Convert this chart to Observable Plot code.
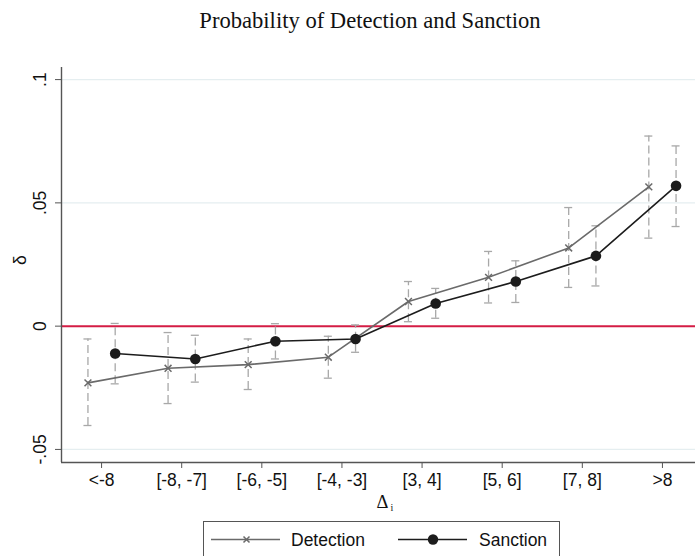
<!DOCTYPE html>
<html>
<head>
<meta charset="utf-8">
<script src="https://cdn.jsdelivr.net/npm/d3@7"></script>
<script src="https://cdn.jsdelivr.net/npm/@observablehq/plot@0.6"></script>
<style>
  html, body { margin: 0; padding: 0; background: #fff; }
  #wrap { position: relative; width: 695px; height: 556px; overflow: hidden; background: #fff; }
  #chart { position: absolute; left: 0; top: 0; }
  #title {
    position: absolute; left: 0; top: 9px; width: 740px; text-align: center;
    font-family: "Liberation Serif", "Times New Roman", serif; font-size: 22.6px; line-height: 24px; color: #111;
  }
  #legend {
    position: absolute; left: 203px; top: 521px; width: 357px; height: 37px;
    border: 1px solid #555; box-sizing: border-box; background: #fff;
    font-family: "Liberation Sans", Arial, sans-serif; font-size: 17.5px; color: #111;
  }
  #legend svg { position: absolute; left: 0; top: 0; }
  #legend span { position: absolute; top: 7px; line-height: 22px; }
</style>
</head>
<body>
<div id="wrap">
  <div id="chart"></div>
  <div id="title">Probability of Detection and Sanction</div>
  <div id="legend">
    <svg width="357" height="37">
      <line x1="7" x2="76" y1="17.5" y2="17.5" stroke="#6a6a6a" stroke-width="1.5"></line>
      <path d="M39.5,14.5L45.5,20.5M45.5,14.5L39.5,20.5" stroke="#6a6a6a" stroke-width="1.5"></path>
      <line x1="194" x2="263" y1="17.5" y2="17.5" stroke="#1c1c1c" stroke-width="1.5"></line>
      <circle cx="229" cy="17.5" r="5.2" fill="#1c1c1c"></circle>
    </svg>
    <span style="left:87px">Detection</span>
    <span style="left:275px">Sanction</span>
  </div>
</div>
<script>
// Groups of Δi on the horizontal axis
const categories = ["<-8", "[-8, -7]", "[-6, -5]", "[-4, -3]", "[3, 4]", "[5, 6]", "[7, 8]", ">8"];

// Detection: point estimates and confidence bounds
const detection   = [-0.0230, -0.0171, -0.0156, -0.0126, 0.0100, 0.0198, 0.0317, 0.0565];
const detectionLo = [-0.0403, -0.0314, -0.0257, -0.0211, 0.0018, 0.0094, 0.0157, 0.0357];
const detectionHi = [-0.0052, -0.0026, -0.0052, -0.0041, 0.0181, 0.0303, 0.0481, 0.0771];

// Sanction: point estimates and confidence bounds
const sanction   = [-0.0111, -0.0133, -0.0061, -0.0052, 0.0092, 0.0181, 0.0285, 0.0569];
const sanctionLo = [-0.0234, -0.0227, -0.0133, -0.0106, 0.0032, 0.0096, 0.0163, 0.0404];
const sanctionHi = [ 0.0011, -0.0037,  0.0010,  0.0005, 0.0153, 0.0265, 0.0407, 0.0731];

// Vertical axis ticks
const yTicks = [-0.05, 0, 0.05, 0.1];
const yTickLabels = ["-.05", "0", ".05", ".1"];

// Horizontal shift of each series around its category
const SHIFT = 0.17;
const CAP = 0.05;
const Y_MIN = -0.0553, Y_MAX = 0.1049;

const build = (series, values, lo, hi, shift) =>
  categories.map((c, i) => ({series, category: c, x: i + shift, y: values[i], lo: lo[i], hi: hi[i]}));

const det = build("Detection", detection, detectionLo, detectionHi, -SHIFT);
const san = build("Sanction", sanction, sanctionLo, sanctionHi, SHIFT);
const all = det.concat(san);

const barColor = "#a8a8a8";
const axisColor = "#555";

const plot = Plot.plot({
  width: 695,
  height: 556,
  marginLeft: 61,
  marginRight: 0,
  marginTop: 67,
  marginBottom: 94,
  style: {fontFamily: "Liberation Sans, Arial, sans-serif", fontSize: "17.5px", color: "#111", background: "transparent"},
  x: {domain: [-0.5, 7.5], range: [61, 702]},
  y: {domain: [Y_MIN, Y_MAX]},
  marks: [
    // grid
    Plot.ruleY(yTicks.filter(t => t !== 0), {stroke: "#e5eef0", strokeWidth: 1.3}),
    // reference line at zero
    Plot.ruleY([0], {stroke: "#d41c45", strokeWidth: 2}),
    // confidence intervals
    Plot.ruleX(all, {x: "x", y1: "lo", y2: "hi", stroke: barColor, strokeWidth: 1.3, strokeDasharray: "8 4"}),
    Plot.ruleY(all, {y: "hi", x1: d => d.x - CAP, x2: d => d.x + CAP, stroke: barColor, strokeWidth: 1.3}),
    Plot.ruleY(all, {y: "lo", x1: d => d.x - CAP, x2: d => d.x + CAP, stroke: barColor, strokeWidth: 1.3}),
    // series
    Plot.line(det, {x: "x", y: "y", stroke: "#6a6a6a", strokeWidth: 1.6}),
    Plot.dot(det, {x: "x", y: "y", symbol: "times", r: 3.2, stroke: "#6a6a6a", strokeWidth: 1.5}),
    Plot.line(san, {x: "x", y: "y", stroke: "#1c1c1c", strokeWidth: 1.6}),
    Plot.dot(san, {x: "x", y: "y", r: 5.3, fill: "#1c1c1c", stroke: "none"}),
    // axis lines
    Plot.ruleX([-0.5], {stroke: axisColor, strokeWidth: 1.4}),
    Plot.ruleY([Y_MIN], {stroke: axisColor, strokeWidth: 1.4}),
    // x axis
    Plot.axisX({ticks: d3.range(categories.length), tickFormat: i => categories[i], tickSize: 6, tickPadding: 5, stroke: axisColor, fill: "#111", fontSize: 17.5, label: null}),
    // y axis ticks and rotated labels
    Plot.axisY({ticks: yTicks, tickSize: 6, tickFormat: () => "", stroke: axisColor, label: null}),
    Plot.text(yTicks, {x: () => -0.5, y: d => d, text: (d, i) => yTickLabels[i], rotate: -90, dx: -21, textAnchor: "middle", lineAnchor: "middle", fontSize: 17.5, fill: "#111"}),
    // axis titles
    Plot.text(["δ"], {frameAnchor: "left", dx: -41, rotate: -90, fontSize: 17.5, fill: "#111", lineAnchor: "middle"}),
    Plot.text(["Δ"], {frameAnchor: "bottom", dx: 4, dy: 40, fontSize: 18.5, fill: "#111", lineAnchor: "middle", fontFamily: "Liberation Serif, serif"}),
    Plot.text(["i"], {frameAnchor: "bottom", dx: 13.5, dy: 45, fontSize: 10, fill: "#111", lineAnchor: "middle", fontFamily: "Liberation Serif, serif"})
  ]
});

document.getElementById("chart").appendChild(plot);
</script>
</body>
</html>
